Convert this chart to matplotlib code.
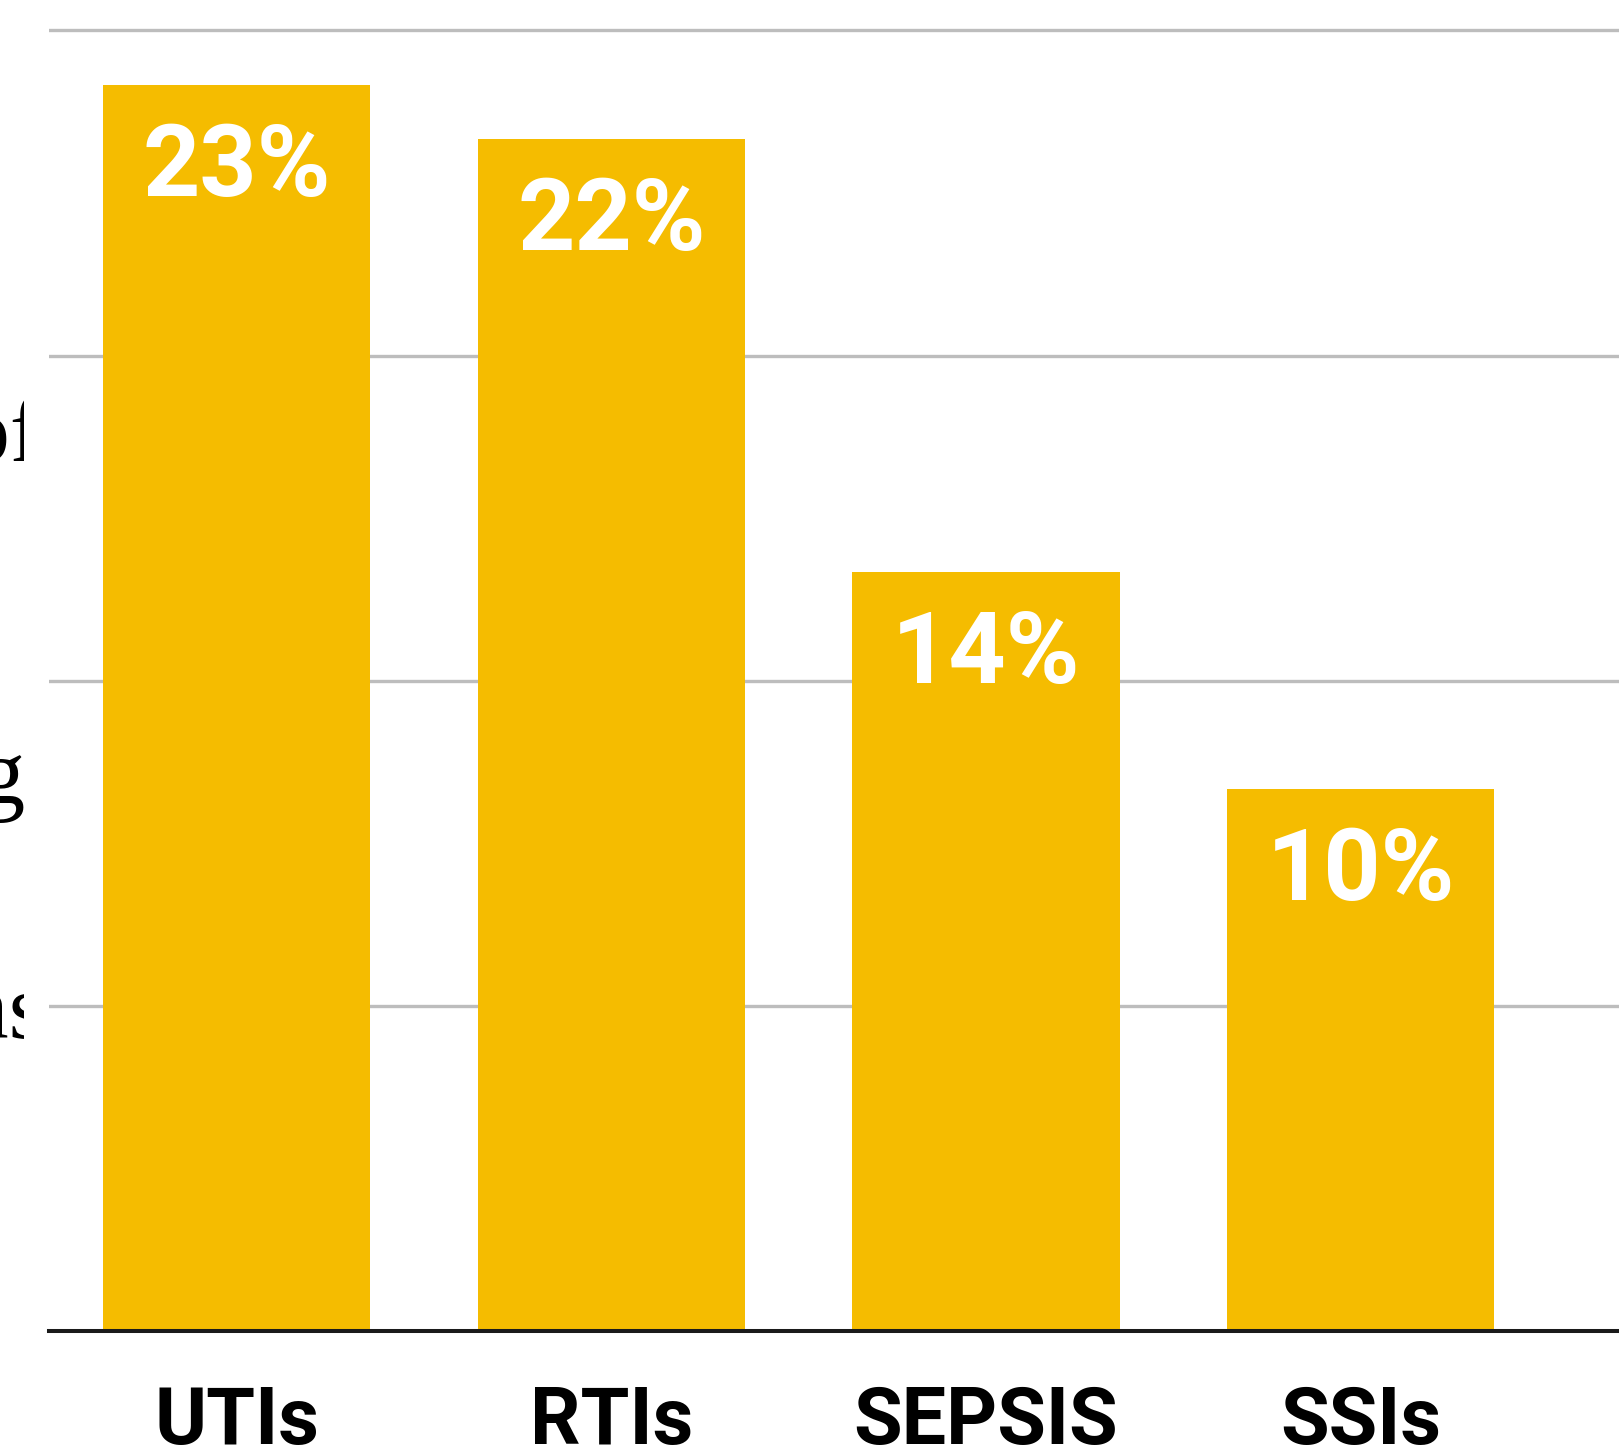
import matplotlib.pyplot as plt
from matplotlib.transforms import Bbox, TransformedBbox

categories = ["UTIs", "RTIs", "SEPSIS", "SSIs"]
shares = [23, 22, 14, 10]
grid_levels = [6, 12, 18, 24]

# fragments of a left-hand caption that is cut off in the source image
side_lines = ["Proportion of", "among", "infections"]
side_baselines_px = [461, 803, 1038]
side_right_px = [41, 26, 45]

W, H = 1619, 1453
fig = plt.figure(figsize=(W / 100, H / 100), dpi=100)
ax = fig.add_axes([48.5 / W, 122 / H, 1 - 48.5 / W, 1 - 122 / H])

x = range(len(categories))
ax.bar(x, shares, width=0.713, color="#F5BC00", zorder=2)

for i, v in enumerate(shares):
    ax.annotate(f"{v}%", xy=(i, v), xytext=(0, -26), textcoords="offset points",
                ha="center", va="top", color="white", fontsize=72,
                fontweight="bold", family="Roboto", zorder=3)

ax.set_xlim(-0.503, 3.69)
ax.set_ylim(0, 24.56)
ax.set_yticks(grid_levels)
ax.set_yticklabels([])
ax.set_xticks(list(x))
ax.set_xticklabels(categories, fontsize=57, fontweight="bold", family="Roboto")
ax.tick_params(axis="both", length=0)
ax.tick_params(axis="x", pad=39)
ax.grid(axis="y", color="#bdbdbd", linewidth=2.4, zorder=0)
ax.set_axisbelow(True)
for side in ["top", "right", "left"]:
    ax.spines[side].set_visible(False)
ax.spines["bottom"].set_color("#1a1a1a")
ax.spines["bottom"].set_linewidth(2.9)
ax.spines["bottom"].set_zorder(4)

clip = TransformedBbox(Bbox([[0, 0], [24 / W, 1]]), fig.transFigure)
for line, yb, xr in zip(side_lines, side_baselines_px, side_right_px):
    t = fig.text(xr / W, 1 - yb / H, line, ha="right", va="baseline",
                 fontsize=68, family="Liberation Serif", color="black")
    t.set_clip_box(clip)
    t.set_clip_on(True)

fig.savefig("out.png", dpi=100)
